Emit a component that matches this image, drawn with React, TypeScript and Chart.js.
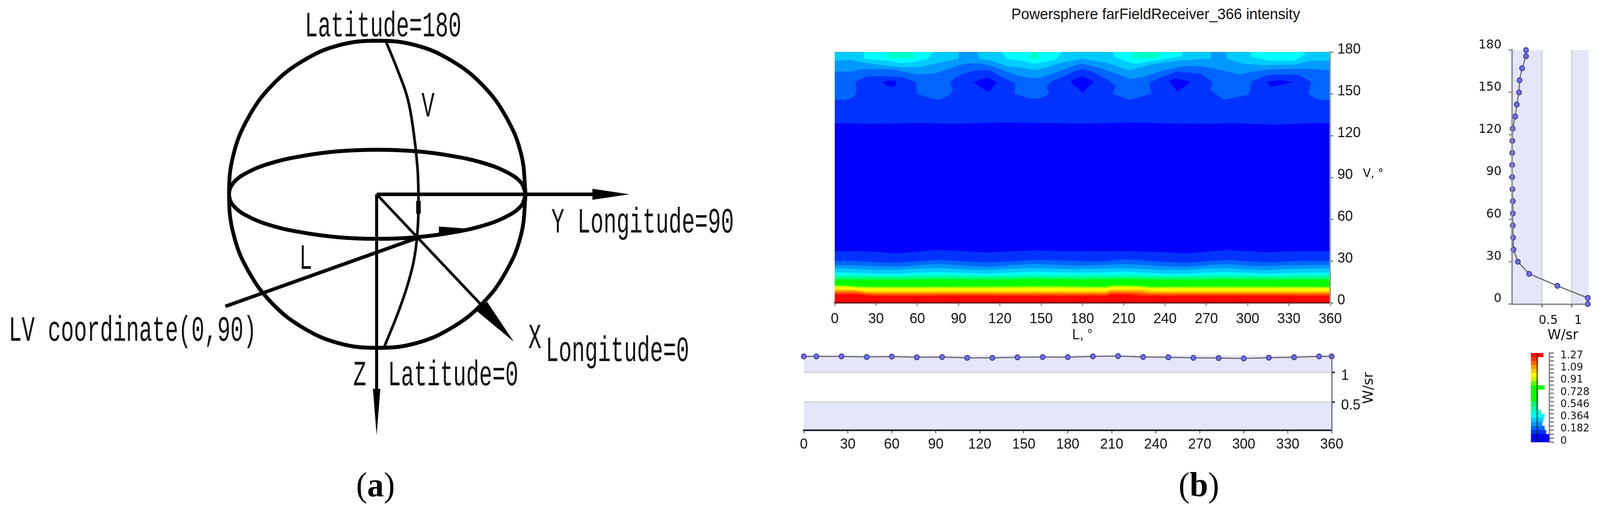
import React, { useEffect, useRef } from 'react';
import Chart from 'chart.js/auto';

type Pt = [number, number];

// ---- panel (a): sphere sketch, in units of sphere radius = 100 ----
const sphereX = [100, 97, 87, 71, 50, 26, 0, -26, -50, -71, -87, -97, -100, -97, -87, -71, -50, -26, 0, 26, 50, 71, 87, 97, 100];
const sphereY = [0, 26, 50, 71, 87, 97, 100, 97, 87, 71, 50, 26, 0, -26, -50, -71, -87, -97, -100, -97, -87, -71, -50, -26, 0];
const equatorY = [0, 7.5, 14.5, 20.5, 25, 28, 29, 28, 25, 20.5, 14.5, 7.5, 0, -7.5, -14.5, -20.5, -25, -28, -29, -28, -25, -20.5, -14.5, -7.5, 0];
const meridian: Pt[] = [[6, 99], [14, 80], [20.5, 62], [24.5, 40], [27, 18], [27.7, 0], [27.5, -17], [25.5, -38], [21, -57], [14, -77], [4.4, -100]];
const axisY: Pt[] = [[-0.5, 0], [150, 0]];
const axisZ: Pt[] = [[-0.5, 0], [-0.5, -130]];
const axisX: Pt[] = [[-0.5, 0], [72, -74]];
const lineL: Pt[] = [[-102.5, -73], [26.7, -28.5]];
const knob: Pt[] = [[27.7, -4.3], [27.7, -12.7]];
const headY: Pt[] = [[145, 3.6], [170, 0], [145, -3.6]];
const headZ: Pt[] = [[-3, -126.7], [-0.5, -157], [2, -126.7]];
const headX: Pt[] = [[74, -70], [92, -96], [67, -76]];
const headL: Pt[] = [[41.5, -21], [41.5, -27], [62, -22.5]];
const sketchLabels = ['Latitude=180', 'V', 'Y Longitude=90', 'L', 'LV coordinate(0,90)', 'X', 'Longitude=0', 'Z', 'Latitude=0'];
const sketchLabelAt: Pt[] = [[-48.9, 102.8], [29.8, 50.6], [117.3, -25], [-52.7, -48.6], [-248.6, -95.4], [101.8, -100.3], [113.5, -108.7], [-16.3, -124.4], [7.1, -124.4]];

// ---- panel (b): contour boundaries of the intensity map, [L, V] in degrees ----
const topBlue: Pt[] = [[0, 129], [30, 128.5], [60, 129], [90, 128.5], [125, 129.6], [150, 129], [180, 128.7], [200, 129], [215, 129.5], [240, 128.8], [270, 128.5], [290, 129], [320, 127.8], [345, 129], [360, 129]];
const topLobes: Pt[] = [[0, 145.6], [10, 146], [15, 149], [16, 153], [15, 158.6], [23.6, 162.5], [39.5, 162.8], [50.5, 161.6], [57, 159], [59, 158.6], [60, 150], [70, 146.7], [76, 145.7], [82, 148.5], [86, 152], [83.6, 158.6], [92, 164], [102, 166.7], [113, 167], [121.5, 162], [131, 157.7], [130.7, 150], [142, 146.7], [148.5, 146.7], [156, 150], [154, 155], [157, 159], [168, 163], [175, 166.5], [180, 167.8], [187, 166], [199.4, 159.6], [204.3, 155.9], [201.8, 150], [214, 145.7], [230, 150], [228.8, 158.2], [248.3, 166], [265.5, 164.6], [274.7, 158.6], [272.8, 153], [282.6, 145.7], [301, 149.4], [302.8, 159], [315.7, 163.7], [336.5, 163.7], [346.3, 158.6], [344.4, 150], [351, 145.7], [360, 145.6]];
const topWave: Pt[] = [[0, 166], [12.6, 166], [18.7, 167.7], [43, 167.7], [49, 166], [60.4, 163.9], [72.6, 164.6], [81, 167.4], [91, 170.6], [96.5, 172], [107, 171.7], [114, 170], [124, 166.5], [131, 163.7], [142, 161.4], [148.5, 161.4], [156, 163.7], [167, 167.8], [175, 170.6], [180, 171.7], [193.3, 168.3], [205.5, 164.2], [214, 160.7], [223.9, 161.9], [238.5, 166.9], [254.5, 170], [266.7, 169.7], [280, 167.4], [293.6, 164], [309.5, 166.9], [321.8, 167.8], [348.7, 167.8], [360, 166.7]];
const topCrest: Pt[] = [[0, 173.8], [11.4, 174.3], [21, 172.4], [38, 170], [50.5, 169], [61.6, 169.2], [70, 171], [81, 173.4], [90, 175.2], [90.3, 180], [103.8, 180], [104.4, 175.2], [114, 173.8], [125, 170], [135, 168.8], [145.4, 167], [154.6, 169.2], [164.4, 172.4], [175, 174.3], [180, 175.2], [197, 172.4], [214, 166.9], [230, 171], [248.3, 173.8], [266.7, 175], [273, 175], [273.4, 180], [284.4, 180], [285, 175.2], [297.3, 171.5], [312, 170.6], [334, 171], [346.3, 173.8], [360, 173.8]];
const cyanPatches: Pt[][] = [
  [[21, 180], [21, 175.2], [38.3, 173.8], [48, 172], [58, 172.9], [67.7, 175.2], [71.4, 180]],
  [[121.5, 180], [125, 175.2], [137, 173.5], [144.8, 171.5], [160.7, 174.3], [165, 180]],
  [[202.4, 180], [203, 176.6], [211, 173.5], [219, 171.5], [227, 173], [240, 175], [252, 177], [252.6, 180]],
  [[302.2, 180], [303, 176.5], [315.7, 173.8], [334, 173.8], [341.4, 178], [341.4, 180]],
];
const mintPatches: Pt[][] = [
  [[38, 180], [38, 175.5], [57.3, 175.5], [57.3, 180]],
  [[142, 180], [142, 175.5], [148, 175], [148, 180]],
  [[216.5, 180], [216.5, 175.5], [236.5, 175.5], [236.5, 180]],
];
const darkDiamonds: Pt[][] = [
  [[34, 158.6], [39, 159.6], [44.4, 159.6], [45, 157.3], [42.6, 154.7], [38.3, 155.9]],
  [[100.7, 158.4], [111, 161.7], [117.8, 158.4], [112.4, 151.7], [110, 152]],
  [[171, 158.8], [179.9, 162.8], [188, 158.8], [180.3, 150.8]],
  [[242.6, 159.4], [248.3, 161], [258.7, 158.6], [249, 151.5]],
  [[314.2, 159], [324.2, 159.7], [333.4, 158.4], [323, 156.3], [316.9, 154.8]],
];

const bandL = [0, 15, 30, 45, 60, 75, 90, 110, 130, 145, 165, 180, 195, 210, 225, 240, 255, 270, 285, 300, 315, 330, 345, 360];
const edge1 = [37.1, 37.1, 36.7, 35.4, 36.8, 38.0, 37.4, 36.1, 37.1, 37.7, 37.1, 37.1, 37.3, 37.1, 36.8, 36.3, 35.4, 36.8, 38.0, 37.1, 36.3, 37.1, 37.1, 37.1];
const edge2 = [30.1, 30.1, 29.2, 28.7, 29.9, 30.8, 29.9, 29.0, 29.9, 30.8, 30.4, 29.9, 29.9, 31.1, 30.4, 29.4, 28.7, 29.9, 30.8, 29.9, 29.0, 29.9, 30.2, 30.2];
const edge3 = [27.0, 27.0, 26.4, 25.9, 27.0, 27.9, 27.0, 25.8, 27.1, 27.9, 27.1, 26.7, 27.1, 27.9, 27.3, 26.2, 25.9, 27.0, 27.9, 26.7, 26.2, 27.0, 27.1, 27.1];
const edge4 = [24.8, 24.4, 23.6, 23.6, 24.6, 25.1, 24.2, 23.5, 24.6, 25.0, 24.4, 24.2, 24.6, 24.8, 24.2, 23.5, 23.5, 24.6, 24.8, 23.9, 23.5, 24.2, 24.6, 24.6];
const edge5 = [21.9, 21.6, 20.9, 20.9, 21.6, 22.1, 21.6, 20.9, 21.8, 22.5, 21.8, 21.6, 21.8, 22.4, 21.6, 20.9, 20.9, 21.6, 22.1, 21.4, 20.9, 21.4, 21.6, 21.6];
const edge6 = [20.2, 20.1, 19.9, 19.8, 20.1, 20.3, 20.1, 19.8, 20.1, 20.4, 20.1, 20.1, 20.2, 20.4, 20.1, 19.8, 19.8, 20.1, 20.3, 20.0, 19.8, 20.0, 20.1, 20.2];
const rippleL = [0, 45, 75, 110, 145, 180, 210, 255, 285, 315, 360];
const edge7 = [19.0, 18.8, 19.1, 18.8, 19.2, 19.0, 19.2, 18.8, 19.1, 18.8, 19.0];
const edge8 = [17.9, 17.7, 18.0, 17.7, 18.1, 17.9, 18.1, 17.7, 18.0, 17.7, 17.9];
const edge9 = [16.8, 16.6, 16.9, 16.7, 17.0, 16.8, 17.0, 16.6, 16.9, 16.7, 16.8];
const warmL = [0, 10, 16, 22, 28, 60, 110, 160, 190, 197, 201, 215, 222, 228, 234, 280, 360];
const edge10 = [12.6, 12.4, 11.9, 11.7, 11.7, 11.7, 11.9, 12.2, 11.7, 11.7, 12.6, 12.6, 12.4, 11.7, 11.7, 11.9, 11.7];
const edge11 = [12.0, 11.9, 11.3, 11.0, 11.0, 11.0, 11.1, 11.3, 11.0, 11.0, 11.9, 11.9, 11.7, 11.0, 11.0, 11.1, 11.0];
const edge12 = [11.0, 10.9, 10.4, 10.1, 10.1, 10.1, 10.2, 10.4, 10.1, 10.1, 11.0, 11.0, 10.6, 10.1, 10.1, 10.2, 10.1];
const edge13 = [9.8, 9.8, 9.5, 8.6, 8.6, 8.6, 8.6, 8.6, 8.6, 8.6, 9.7, 9.8, 9.8, 9.1, 8.6, 8.6, 8.6];
const edge14 = [8.9, 8.9, 8.7, 7.6, 7.6, 7.6, 7.6, 7.6, 7.6, 7.6, 8.7, 8.7, 8.6, 7.6, 7.6, 7.6, 7.6];
const edge15 = [8.0, 8.0, 8.0, 7.1, 6.7, 6.7, 6.7, 6.7, 6.7, 6.7, 7.8, 7.6, 7.4, 6.7, 6.7, 6.7, 6.7];
const edge16 = [6.9, 6.9, 6.9, 6.2, 5.8, 5.8, 5.8, 5.8, 5.8, 5.8, 6.9, 6.7, 6.2, 5.8, 5.8, 5.8, 5.8];
const edge17 = [6.2, 6.2, 6.2, 5.5, 4.9, 4.9, 4.9, 4.9, 4.9, 4.9, 6.0, 5.8, 5.1, 4.9, 4.9, 4.9, 4.9];

// ---- panel (b): the two cuts ----
const cutL = [0, 8.6, 25.7, 42.9, 60, 77.1, 94.3, 111.4, 128.6, 145.7, 162.9, 180, 197.1, 214.3, 231.4, 248.6, 265.7, 282.9, 300, 317.1, 334.3, 351.4, 360];
const cutLValues = [1.269, 1.269, 1.269, 1.259, 1.265, 1.253, 1.257, 1.244, 1.244, 1.253, 1.257, 1.255, 1.269, 1.273, 1.259, 1.253, 1.244, 1.24, 1.234, 1.246, 1.253, 1.269, 1.269];
const cutV = [180, 175.7, 167.1, 158.6, 150, 141.4, 132.9, 124.3, 115.7, 107.1, 98.6, 90, 81.4, 72.9, 64.3, 55.7, 47.1, 38.6, 30, 21.4, 12.9, 4.3, 0];
const cutVValues = [0.234, 0.234, 0.167, 0.125, 0.117, 0.079, 0.053, 0.009, 0.004, 0.002, 0.001, 0.002, 0.006, 0.012, 0.012, 0.012, 0.017, 0.022, 0.097, 0.285, 0.76, 1.27, 1.27];
const intensityTicks = [0.5, 1];

// ---- colour legend, top to bottom ----
const legendRows = ['r0', 'r1', 'r2', 'r3', 'r4', 'r5', 'r6', 'r7', 'r8', 'r9', 'r10', 'r11', 'r12', 'r13', 'r14', 'r15', 'r16', 'r17', 'r18', 'r19', 'r20', 'r21'];
const legendColors = ['#ff0000', '#ff3300', '#ff6600', '#ff9900', '#ffcc00', '#ffff00', '#bbff00', '#55ff00', '#00ff00', '#00ff00', '#00ff00', '#00ff00', '#00ff66', '#00ff99', '#00ffcc', '#00ffff', '#00ccff', '#0099ff', '#0066ff', '#0033ff', '#0000ff', '#0000ff'];
const legendCounts = [1.0, 0, 0, 0, 0, 0, 0, 0, 1.2, 0, 0, 0, 0, 0, 0.53, 1.2, 1.0, 0.8, 1.2, 1.47, 2.0, 2.0];
const legendLabels = [0, 0.182, 0.364, 0.546, 0.728, 0.91, 1.09, 1.27];
const legendTicks = [0, 0.06, 0.12, 0.182, 0.243, 0.303, 0.364, 0.424, 0.485, 0.546, 0.606, 0.667, 0.728, 0.788, 0.849, 0.91, 0.97, 1.03, 1.09, 1.15, 1.21, 1.27];

const MAP_COLORS = ['#0033ff', '#0066ff', '#0099ff', '#00ccff', '#00ffff', '#00ffc4', '#00ff99', '#00ff66', '#00ff00', '#66ff00', '#ccff00', '#ffff00', '#ffcc00', '#ff9900', '#ff6600', '#ff3300', '#ff0000'];
const LAVENDER = '#e4e6f9';
const GRID_GREY = '#d9d9d9';
const SANS = '"Liberation Sans", sans-serif';
const WIDE = '"DejaVu Sans", sans-serif';

// the browser window stops at 4096px wide, so the 4240px layout gets narrowed to fit it
const PAGE_WIDTH = 4240;
const PAGE_HEIGHT = 1300;

const xy = (pts: Pt[]) => pts.map(([x, y]) => ({ x, y }));
const zip = (xs: number[], ys: number[]) => xs.map((x, i) => ({ x, y: ys[i] }));

const stroke = (data: any[], borderWidth: number, tension = 0) => ({
  data, borderWidth, tension, borderColor: '#000', pointRadius: 0, fill: false, capBezierPoints: false,
});
const solid = (data: any[], color: string) => ({
  data, backgroundColor: color, borderColor: 'transparent', borderWidth: 0, pointRadius: 0, fill: 'shape',
});

// sketch labels are squeezed horizontally, like the narrow bitmap font in the source figure
const sketchTextPlugin = {
  id: 'sketchText',
  afterDatasetsDraw(chart: any) {
    const { ctx, scales } = chart;
    ctx.save();
    ctx.fillStyle = '#111';
    ctx.font = '90px "Liberation Mono", monospace';
    ctx.textBaseline = 'alphabetic';
    sketchLabels.forEach((text, i) => {
      const [u, v] = sketchLabelAt[i];
      ctx.save();
      ctx.translate(scales.x.getPixelForValue(u), scales.y.getPixelForValue(v));
      ctx.scale(0.64, 1);
      ctx.fillText(text, 0, 0);
      ctx.restore();
    });
    ctx.restore();
  },
};

// lavender stripes behind the cuts
const stripes = (axis: 'x' | 'y', edges: Pt[]) => ({
  id: 'stripes',
  beforeDraw(chart: any) {
    const { ctx, chartArea: a, scales } = chart;
    ctx.save();
    ctx.fillStyle = LAVENDER;
    edges.forEach(([lo, hi]) => {
      const p0 = scales[axis].getPixelForValue(lo);
      const p1 = scales[axis].getPixelForValue(hi);
      if (axis === 'y') ctx.fillRect(a.left, p1, a.right - a.left, p0 - p1);
      else ctx.fillRect(p0, a.top, p1 - p0, a.bottom - a.top);
    });
    ctx.restore();
  },
});

const base = {
  responsive: false,
  animation: false,
  devicePixelRatio: 1,
  events: [],
};
const noPlugins = { legend: { display: false }, tooltip: { enabled: false } };

const sketchConfig = {
  type: 'line',
  data: {
    datasets: [
      stroke(zip(sphereX, sphereY), 10, 0.4),
      stroke(zip(sphereX, equatorY), 10, 0.4),
      stroke(xy(meridian), 7, 0.4),
      stroke(xy(axisY), 9),
      stroke(xy(axisZ), 8),
      stroke(xy(axisX), 7),
      stroke(xy(lineL), 9),
      stroke(xy(knob), 12),
      solid(xy(headY), '#000'),
      solid(xy(headZ), '#000'),
      solid(xy(headX), '#000'),
      solid(xy(headL), '#000'),
    ],
  },
  options: {
    ...base,
    plugins: noPlugins,
    scales: {
      x: { type: 'linear', display: false, min: -254.45, max: 279.9 },
      y: { type: 'linear', display: false, min: -204.3, max: 126.5 },
    },
  },
  plugins: [sketchTextPlugin],
};

const paintOrder = [
  solid(xy([[0, 0], [360, 0], [360, 180], [0, 180]]), '#0000ff'),
  solid([...xy(topBlue), { x: 360, y: 180 }, { x: 0, y: 180 }], MAP_COLORS[0]),
  solid([...xy(topLobes), { x: 360, y: 180 }, { x: 0, y: 180 }], MAP_COLORS[1]),
  solid([...xy(topWave), { x: 360, y: 180 }, { x: 0, y: 180 }], MAP_COLORS[2]),
  solid([...xy(topCrest), { x: 360, y: 180 }, { x: 0, y: 180 }], MAP_COLORS[3]),
  ...cyanPatches.map((p) => solid(xy(p), MAP_COLORS[4])),
  ...mintPatches.map((p) => solid(xy(p), MAP_COLORS[5])),
  ...darkDiamonds.map((p) => solid(xy(p), '#0000ff')),
  ...[
    zip(bandL, edge1), zip(bandL, edge2), zip(bandL, edge3), zip(bandL, edge4), zip(bandL, edge5), zip(bandL, edge6),
    zip(rippleL, edge7), zip(rippleL, edge8), zip(rippleL, edge9),
    zip(warmL, edge10), zip(warmL, edge11), zip(warmL, edge12), zip(warmL, edge13), zip(warmL, edge14), zip(warmL, edge15), zip(warmL, edge16), zip(warmL, edge17),
  ].map((edge, i) => solid([...edge, { x: 360, y: 0 }, { x: 0, y: 0 }], MAP_COLORS[i])),
];

const mapConfig = {
  type: 'line',
  // chart.js paints the last dataset first
  data: { datasets: [...paintOrder].reverse() },
  options: {
    ...base,
    layout: { padding: { left: 62, top: 23 } },
    plugins: noPlugins,
    scales: {
      x: {
        type: 'linear', min: 0, max: 360,
        afterFit: (s: any) => { s.height = 105; },
        grid: { display: true, drawOnChartArea: false, color: '#888', tickLength: 8, lineWidth: 3 },
        border: { color: 'rgba(70,0,0,0.75)', width: 4, z: 1 },
        ticks: { stepSize: 30, maxRotation: 0, color: '#111', padding: 12, font: { family: SANS, size: 37 } },
        title: { display: true, text: 'L, °', color: '#111', padding: 0, font: { family: SANS, size: 36 } },
      },
      y: {
        type: 'linear', position: 'right', min: 0, max: 180,
        afterFit: (s: any) => { s.width = 125; },
        grid: { display: true, drawOnChartArea: false, color: '#777', tickLength: 8, lineWidth: 3 },
        border: { color: '#999', width: 4, z: 1 },
        ticks: { stepSize: 30, color: '#111', padding: 11, labelOffset: -6, font: { family: SANS, size: 37 } },
      },
    },
  },
};

const cutMarker = {
  borderColor: '#6a6a6a', borderWidth: 3, pointRadius: 6.5, pointBackgroundColor: '#6f6ff0',
  pointBorderColor: '#2f2f8a', pointBorderWidth: 2, clip: false, fill: false,
};

const lCutConfig = {
  type: 'line',
  data: { datasets: [{ data: zip(cutL, cutLValues), ...cutMarker }] },
  options: {
    ...base,
    layout: { padding: { left: 20, top: 17 } },
    plugins: noPlugins,
    scales: {
      x: {
        type: 'linear', min: 0, max: 360,
        afterFit: (s: any) => { s.height = 79; },
        grid: { display: true, drawOnChartArea: false, color: '#777', tickLength: 8, lineWidth: 3 },
        border: { color: '#1c1c24', width: 4, z: 1 },
        ticks: { stepSize: 30, maxRotation: 0, color: '#111', padding: 7, font: { family: SANS, size: 37 } },
      },
      y: {
        type: 'linear', position: 'right', min: 0.024, max: 1.287,
        afterBuildTicks: (s: any) => { s.ticks = intensityTicks.map((value) => ({ value })); },
        afterFit: (s: any) => { s.width = 121; },
        grid: { color: GRID_GREY, lineWidth: 4, tickColor: '#222', tickLength: 8 },
        border: { color: '#666a78', width: 3, z: 1 },
        ticks: { color: '#111', padding: 17, labelOffset: 9, callback: (v: any) => String(v), font: { family: SANS, size: 37 } },
      },
    },
  },
  plugins: [stripes('y', [[0, 0.5], [1, 1.287]])],
};

const vCutConfig = {
  type: 'line',
  data: { datasets: [{ data: zip(cutVValues, cutV), ...cutMarker }] },
  options: {
    ...base,
    layout: { padding: { left: 57, top: 34, right: 30 } },
    plugins: noPlugins,
    scales: {
      x: {
        type: 'linear', min: 0, max: 1.285,
        afterBuildTicks: (s: any) => { s.ticks = intensityTicks.map((value) => ({ value })); },
        afterFit: (s: any) => { s.height = 102; },
        grid: { color: GRID_GREY, lineWidth: 4, tickColor: '#777', tickLength: 8 },
        border: { color: '#77778a', width: 3, z: 1 },
        ticks: { color: '#111', padding: 15, labelOffset: 17, maxRotation: 0, callback: (v: any) => String(v), font: { family: WIDE, size: 32 } },
      },
      y: {
        type: 'linear', min: 0, max: 180,
        afterFit: (s: any) => { s.width = 100; },
        grid: { display: true, drawOnChartArea: false, color: '#444', tickLength: 9, lineWidth: 2 },
        border: { color: '#8c8c9c', width: 4, z: 1 },
        ticks: { stepSize: 30, color: '#111', padding: 19, labelOffset: -13, font: { family: WIDE, size: 32 } },
      },
    },
  },
  plugins: [stripes('x', [[0, 0.5], [1, 1.285]])],
};

const legendBar = {
  categoryPercentage: 1, barPercentage: 1, grouped: false, borderWidth: 0,
};

const legendConfig = {
  type: 'bar',
  data: {
    labels: legendRows,
    datasets: [
      { ...legendBar, data: legendRows.map(() => [-0.2, 0]), backgroundColor: 'rgba(20,20,20,0.6)', order: 0 },
      { ...legendBar, data: legendRows.map(() => [-1.2, 0]), backgroundColor: legendColors, order: 1 },
      { ...legendBar, data: legendCounts, backgroundColor: legendColors, order: 1 },
    ],
  },
  options: {
    ...base,
    indexAxis: 'y',
    layout: { padding: { left: 17, top: 17, bottom: 32 } },
    plugins: noPlugins,
    scales: {
      x: { type: 'linear', display: false, min: -1.2, max: 2.07 },
      y: { type: 'category', display: false },
      bar: {
        type: 'linear', axis: 'y', position: 'right', min: 0, max: 1.27,
        afterBuildTicks: (s: any) => { s.ticks = legendTicks.map((value) => ({ value })); },
        afterFit: (s: any) => { s.width = 134; },
        grid: { display: true, drawOnChartArea: false, color: '#777', tickLength: 12, lineWidth: 3 },
        border: { color: '#8a8a8a', width: 4 },
        ticks: {
          autoSkip: false, color: '#111', padding: 17, labelOffset: 2, font: { family: WIDE, size: 27 },
          callback: (v: any) => (legendLabels.includes(v) ? String(v) : ''),
        },
      },
    },
  },
};

function Panel({ left, top, width, height, config }: any) {
  const ref = useRef<HTMLCanvasElement>(null);
  useEffect(() => {
    if (!ref.current) return;
    const chart = new Chart(ref.current, config);
    return () => chart.destroy();
  }, [config]);
  return <canvas ref={ref} width={width} height={height} style={{ position: 'absolute', left, top, width, height }} />;
}

function Caption({ letter, center }: { letter: string; center: number }) {
  return (
    <div style={{ position: 'absolute', left: center, top: 1190, transform: 'translateX(-50%)', font: '88px/1.15 "Liberation Serif", serif', color: '#000' }}>
      (<b>{letter}</b>)
    </div>
  );
}

const tag: React.CSSProperties = { position: 'absolute', whiteSpace: 'nowrap', lineHeight: 1, color: '#111' };

export default function App() {
  const fit = Math.min(1, window.innerWidth / PAGE_WIDTH);
  return (
    <div style={{ position: 'absolute', left: 0, top: 0, width: PAGE_WIDTH, height: PAGE_HEIGHT, overflow: 'hidden', background: '#fff', transform: `scaleX(${fit})`, transformOrigin: '0 0' }}>
      <Panel left={0} top={0} width={2100} height={1300} config={sketchConfig} />
      <Panel left={2150} top={100} width={1500} height={780} config={mapConfig} />
      <Panel left={2110} top={870} width={1540} height={310} config={lCutConfig} />
      <Panel left={3850} top={90} width={390} height={790} config={vCutConfig} />
      <Panel left={4040} top={870} width={200} height={295} config={legendConfig} />
      <div style={{ ...tag, left: 2680, top: 14, font: `39px ${SANS}` }}>Powersphere farFieldReceiver_366 intensity</div>
      <div style={{ ...tag, left: 3612, top: 425, font: `30px ${WIDE}` }}>V, °</div>
      <div style={{ ...tag, left: 4101, top: 835, font: `36px ${WIDE}` }}>W/sr</div>
      <div style={{ ...tag, left: 3625, top: 993, transform: 'translate(-50%,-50%) rotate(-90deg)', font: `36px ${WIDE}` }}>W/sr</div>
      <Caption letter="a" center={995} />
      <Caption letter="b" center={3177} />
    </div>
  );
}
